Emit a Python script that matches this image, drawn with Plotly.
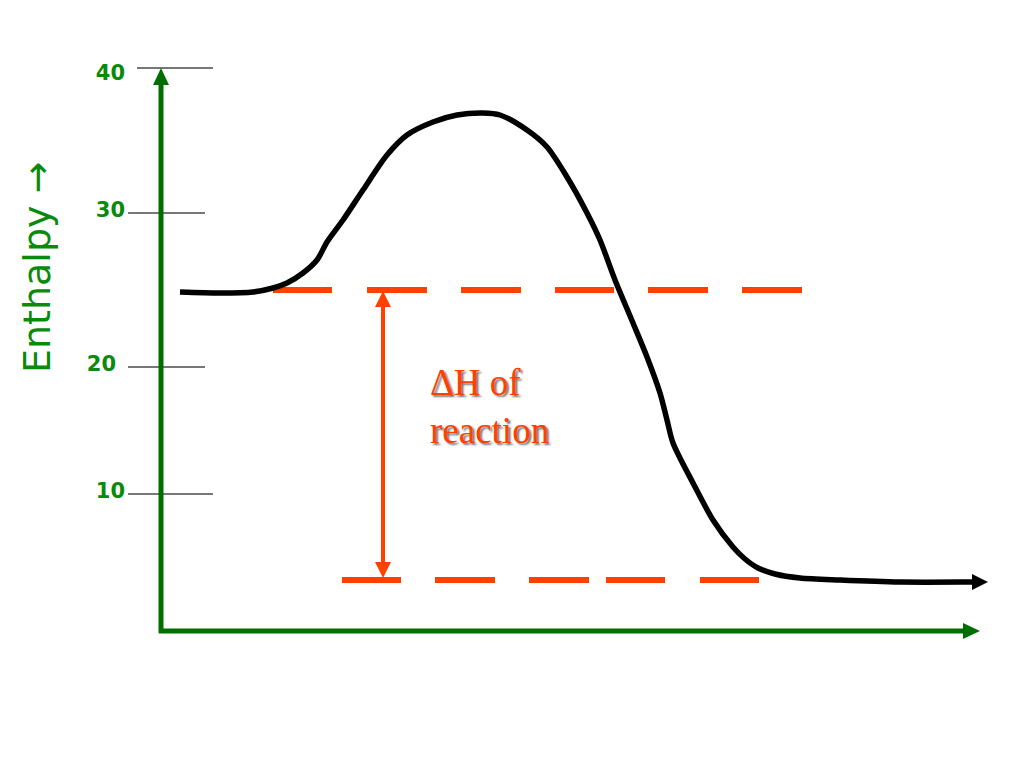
import plotly.graph_objects as go

# reaction path (canvas units: x to the right, y downwards)
curve_x = [180, 220, 253, 273, 287, 303, 317, 327, 343, 363, 387, 407, 433, 457, 483, 500,
           527, 547, 567, 587, 600, 615, 633, 647, 660, 667, 673, 693, 713, 733, 745, 758,
           775, 800, 840, 900, 973]
curve_y = [292, 293, 292, 288, 283, 273, 260, 242, 220, 190, 155, 135, 122, 115, 113, 115,
           130, 147, 177, 213, 240, 280, 323, 357, 393, 420, 443, 483, 520, 547, 559, 568,
           574, 578, 580, 582, 582]
curve_tip = (988, 582)

# enthalpy ticks
tick_labels = ["40", "30", "20", "10"]
tick_y = [68, 213, 367, 494]
tick_x0 = [137, 128, 128, 128]
tick_x1 = [213, 205, 205, 213]
label_x = [125, 125, 116, 125]
label_y = [75, 212, 366, 493]

# axes
origin = (161, 631)
y_axis_tip = (161, 68)
x_axis_tip = (980, 631)

# reactant / product levels (dashed)
top_level = 290
top_dash_start = [273, 367, 461, 555, 648, 742]
top_dash_end = [332, 427, 521, 614, 708, 802]
bottom_level = 580
bottom_dash_start = [342, 435, 529, 606, 700]
bottom_dash_end = [401, 495, 589, 665, 759]

# delta H arrow
dh_x = 383

GREEN = "#006F00"
GREEN_TXT = "#0A8A0A"
RED = "#FF4000"


def head(tip, direction, length=17, half=8):
    # filled triangle with its tip at `tip`, pointing along `direction`
    dx, dy = direction
    bx, by = tip[0] - dx * length, tip[1] - dy * length
    px, py = -dy, dx
    xs = [tip[0], bx + px * half, bx - px * half, tip[0]]
    ys = [tip[1], by + py * half, by - py * half, tip[1]]
    return xs, ys


def segments(x0s, x1s, y0s, y1s):
    xs, ys = [], []
    for a, b, c, d in zip(x0s, x1s, y0s, y1s):
        xs += [a, b, None]
        ys += [c, d, None]
    return xs, ys


fig = go.Figure()


def add_head(tip, direction, color, length=17, half=8):
    xs, ys = head(tip, direction, length, half)
    fig.add_trace(go.Scatter(x=xs, y=ys, mode="lines", fill="toself", fillcolor=color,
                             line=dict(width=0, color=color), hoverinfo="skip"))


# tick lines
tx, ty = segments(tick_x0, tick_x1, tick_y, tick_y)
fig.add_trace(go.Scatter(x=tx, y=ty, mode="lines", line=dict(color="#4a4a4a", width=1.3)))

# tick labels
fig.add_trace(go.Scatter(x=label_x, y=label_y, mode="text", text=tick_labels,
                         textposition="middle left",
                         textfont=dict(family="DejaVu Sans", size=21, color=GREEN_TXT,
                                       weight="bold")))

# green axes with arrowheads
fig.add_trace(go.Scatter(x=[origin[0], origin[0]], y=[origin[1] + 2, y_axis_tip[1] + 15],
                         mode="lines", line=dict(color=GREEN, width=5)))
add_head(y_axis_tip, (0, -1), GREEN)
fig.add_trace(go.Scatter(x=[origin[0] - 2, x_axis_tip[0] - 15], y=[origin[1], origin[1]],
                         mode="lines", line=dict(color=GREEN, width=5)))
add_head(x_axis_tip, (1, 0), GREEN)

# dashed enthalpy levels
dx_, dy_ = segments(top_dash_start, top_dash_end, [top_level] * 6, [top_level] * 6)
fig.add_trace(go.Scatter(x=dx_, y=dy_, mode="lines", line=dict(color=RED, width=6)))
dx_, dy_ = segments(bottom_dash_start, bottom_dash_end, [bottom_level] * 5, [bottom_level] * 5)
fig.add_trace(go.Scatter(x=dx_, y=dy_, mode="lines", line=dict(color=RED, width=6)))

# delta H double arrow
fig.add_trace(go.Scatter(x=[dh_x, dh_x], y=[top_level + 12, bottom_level - 12], mode="lines",
                         line=dict(color=RED, width=4)))
add_head((dh_x, top_level + 1), (0, -1), RED, 16, 8)
add_head((dh_x, bottom_level - 2), (0, 1), RED, 16, 8)

# reaction curve
fig.add_trace(go.Scatter(x=curve_x + [curve_tip[0] - 10], y=curve_y + [curve_tip[1]],
                         mode="lines", line=dict(color="black", width=5.5, shape="spline",
                                                 smoothing=0.8)))
add_head(curve_tip, (1, 0), "black", 16, 8)

fig.add_annotation(x=37, y=268, text="Enthalpy \u2192",
                   textangle=-90, showarrow=False,
                   font=dict(family="DejaVu Sans", size=38, color=GREEN_TXT))
fig.add_annotation(x=428, y=406, xanchor="left", yanchor="middle", align="left",
                   text="\u0394H of<br>reaction", showarrow=False,
                   font=dict(family="Liberation Serif", size=37, color=RED,
                             shadow="2px 2px 2px rgba(0,0,0,0.55)"))

# the page body adds an 8px offset, so the ranges start at 8
fig.update_layout(width=1024, height=768, margin=dict(l=0, r=0, t=0, b=0),
                  paper_bgcolor="white", plot_bgcolor="white", showlegend=False,
                  xaxis=dict(range=[8, 1032], visible=False, fixedrange=True),
                  yaxis=dict(range=[776, 8], visible=False, fixedrange=True))

fig.write_html("out.html")
